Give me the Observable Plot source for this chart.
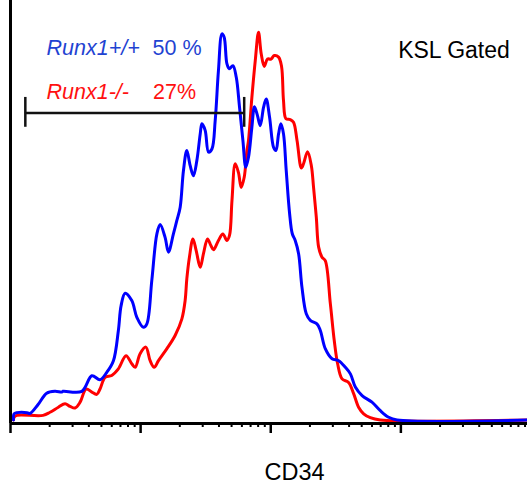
<!DOCTYPE html>
<html>
<head>
<meta charset="utf-8">
<script src="https://cdn.jsdelivr.net/npm/d3@7"></script>
<script src="https://cdn.jsdelivr.net/npm/@observablehq/plot@0.6"></script>
<style>
  html, body { margin: 0; padding: 0; background: #fff; }
  #chart svg { display: block; }
</style>
</head>
<body>
<div id="chart"></div>
<script>
// CD34 fluorescence (log10 exponent) and % of mode
const blueLog = [0.023,0.027,0.050,0.127,0.150,0.212,0.278,0.342,0.394,0.404,0.548,0.625,0.688,0.740,0.791,0.829,0.850,0.881,0.932,0.971,1.022,1.048,1.086,1.125,1.150,1.188,1.214,1.252,1.278,1.304,1.329,1.355,1.381,1.406,1.432,1.458,1.471,1.496,1.522,1.548,1.573,1.598,1.625,1.642,1.663,1.681,1.709,1.735,1.760,1.786,1.808,1.829,1.855,1.875,1.898,1.919,1.945,1.965,1.991,2.022,2.040,2.060,2.078,2.098,2.119,2.145,2.165,2.188,2.214,2.240,2.273,2.304,2.355,2.381,2.419,2.471,2.522,2.573,2.612,2.650,2.702,2.778,2.842,2.906,2.971,3.973];
const blueMode = [0,1.6,1.9,1.9,1.7,4.0,6.9,7.4,7.2,7.4,7.4,11.4,10.4,12.3,15.3,23.1,29.5,32.7,30.8,26.5,23.9,24.8,36.0,48.0,50.4,47.1,43.3,48.0,51.4,54.9,64.3,69.5,65.6,63.0,66.9,73.8,76.4,74.7,69.1,69.9,77.2,90.1,99.6,98.7,91.9,90.6,91.4,88.4,80.7,72.1,65.2,67.8,75.5,80.8,78.5,75.9,80.7,82.8,78.1,70.3,69.5,73.8,76.4,73.8,64.3,53.2,48.1,46.3,42.9,34.2,27.4,25.7,24.8,23.1,18.4,15.8,15.3,13.6,11.9,8.5,6.3,4.6,2.4,0.7,0,0];

const redLog = [0.023,0.027,0.050,0.250,0.304,0.368,0.419,0.458,0.496,0.535,0.581,0.625,0.663,0.688,0.727,0.778,0.829,0.888,0.932,0.958,0.996,1.040,1.073,1.104,1.137,1.202,1.265,1.317,1.342,1.355,1.375,1.402,1.427,1.458,1.483,1.514,1.540,1.560,1.598,1.632,1.663,1.683,1.702,1.727,1.752,1.773,1.796,1.817,1.829,1.855,1.881,1.906,1.927,1.950,1.975,2.002,2.027,2.060,2.083,2.098,2.117,2.150,2.175,2.202,2.235,2.252,2.283,2.312,2.329,2.350,2.368,2.394,2.419,2.458,2.488,2.514,2.548,2.598,2.637,2.675,2.714,2.765,2.842,3.973];
const redMode = [0,0.7,1.2,1.2,2.0,3.3,4.2,3.5,3.1,4.6,8.0,7.2,6.6,8.0,11.0,11.5,13.2,16.6,14.5,13.6,17.1,18.8,15.3,13.6,15.3,18.4,21.8,26.1,30.8,36.4,42.0,46.7,43.7,39.4,42.9,46.7,45.0,43.9,46.3,48.0,46.3,47.6,56.6,66.1,63.8,60.0,62.6,69.5,72.1,83.2,92.7,100,94.4,91.2,93.1,93.1,94.0,93.6,91.2,82.4,77.7,77.5,76.8,72.1,65.0,66.1,69.2,65.6,60.0,52.3,44.6,42.0,41.1,30.0,20.5,14.5,10.6,9.7,6.8,3.3,1.6,0.6,0,0];

// gate bracket
const gateRange = [1.3, 62.5];
const gateLevel = 79.2;
const gateCap = [75.5, 83.2];

// axis ticks
const majorTicks = [1, 10, 100, 1000];
const minorTicks = [2,3,4,5,6,7,8,9,20,30,40,50,60,70,80,90,200,300,400,500,600,700,800,900,2000,3000,4000,5000,6000,7000,8000,9000];

// texts
const seriesNames = ["Runx1+/+", "Runx1-/-"];
const seriesPct = ["50 %", "27%"];
const gateTitle = "KSL Gated";
const xTitle = "CD34";

const blue = blueLog.map((e, i) => ({x: 10 ** e, y: blueMode[i]}));
const red = redLog.map((e, i) => ({x: 10 ** e, y: redMode[i]}));
const gateCaps = gateRange.map(v => ({x: v, y1: gateCap[0], y2: gateCap[1]}));

const font = "'Liberation Sans', Arial, Helvetica, sans-serif";
const blueText = "#1f43d2";
const redText = "#ff1010";

const chart = Plot.plot({
  width: 527,
  height: 484,
  marginLeft: 10,
  marginRight: 0,
  marginTop: 0,
  marginBottom: 61,
  style: {background: "#fff", overflow: "visible"},
  x: {type: "log", domain: [1, 9400]},
  y: {domain: [-0.9, 108.2], axis: null},
  marks: [
    Plot.axisX({ticks: minorTicks, tickSize: 4, tickFormat: () => "", strokeWidth: 2, label: null, stroke: "#000"}),
    Plot.axisX({ticks: majorTicks, tickSize: 10, tickFormat: () => "", strokeWidth: 2.5, label: null, stroke: "#000"}),
    Plot.line(red, {x: "x", y: "y", stroke: "#ff0000", strokeWidth: 3, curve: "catmull-rom"}),
    Plot.line(blue, {x: "x", y: "y", stroke: "#0000ff", strokeWidth: 3, curve: "catmull-rom"}),
    Plot.ruleY([-0.9], {stroke: "#000", strokeWidth: 3}),
    Plot.ruleX([1], {stroke: "#000", strokeWidth: 3}),
    Plot.ruleY([gateLevel], {x1: gateRange[0], x2: gateRange[1], stroke: "#111", strokeWidth: 2.5}),
    Plot.ruleX(gateCaps, {x: "x", y1: "y1", y2: "y2", stroke: "#111", strokeWidth: 2.5}),
    Plot.text([seriesNames[0]], {frameAnchor: "top-left", dx: 36, dy: 54, textAnchor: "start", lineAnchor: "bottom", fontSize: 21.5, fontStyle: "italic", fontFamily: font, fill: blueText}),
    Plot.text([seriesPct[0]], {frameAnchor: "top-left", dx: 142, dy: 54, textAnchor: "start", lineAnchor: "bottom", fontSize: 21.5, fontFamily: font, fill: blueText}),
    Plot.text([seriesNames[1]], {frameAnchor: "top-left", dx: 36, dy: 98, textAnchor: "start", lineAnchor: "bottom", fontSize: 21.5, fontStyle: "italic", fontFamily: font, fill: redText}),
    Plot.text([seriesPct[1]], {frameAnchor: "top-left", dx: 142.5, dy: 98, textAnchor: "start", lineAnchor: "bottom", fontSize: 21.5, fontFamily: font, fill: redText}),
    Plot.text([gateTitle], {frameAnchor: "top-left", dx: 443.5, dy: 57, textAnchor: "middle", lineAnchor: "bottom", fontSize: 23, fontFamily: font, fill: "#000"}),
    Plot.text([xTitle], {frameAnchor: "top-left", dx: 284, dy: 479, textAnchor: "middle", lineAnchor: "bottom", fontSize: 23.5, fontFamily: font, fill: "#000"})
  ]
});
document.getElementById("chart").appendChild(chart);
</script>
</body>
</html>
